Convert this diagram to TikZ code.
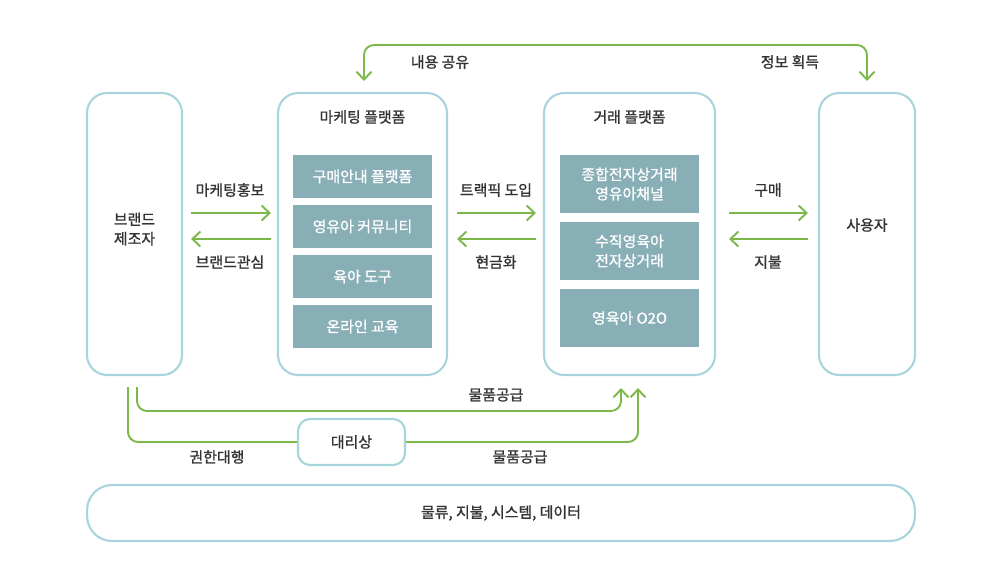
\documentclass[tikz,border=0pt]{standalone}
\usepackage{fontspec}
\setmainfont{Noto Sans CJK KR}[FakeBold=1.2]
\usetikzlibrary{arrows.meta}
\definecolor{boxline}{HTML}{A8D5DB}
\definecolor{boxfill}{HTML}{88AEB6}
\definecolor{flowgreen}{HTML}{7DB94A}
\definecolor{textgray}{HTML}{333333}

\begin{document}
\begin{tikzpicture}[x=0.02cm,y=-0.02cm,
    every node/.style={font=\fontsize{8.5}{11}\selectfont,text=textgray},
    flowtip/.tip={Straight Barb[length=4.5pt,width=8.5pt]},
    frame/.style={draw=boxline,line width=1.2pt,rounded corners=0.4cm},
    column/.style={frame,minimum height=5.64cm},
    item/.style={fill=boxfill,text=white,minimum width=2.78cm,align=center,inner sep=0pt},
    flow/.style={draw=flowgreen,line width=1.1pt,-flowtip},
    link/.style={draw=flowgreen,line width=1.1pt,rounded corners=0.2cm}]
    \useasboundingbox (0,0) rectangle (1000,566);
    \node[column,minimum width=1.9cm] (maker) at (134.5,234) {};
    \node[column,minimum width=3.38cm] (mkt) at (362.5,234) {};
    \node[column,minimum width=3.42cm] (trade) at (629.5,234) {};
    \node[column,minimum width=1.92cm] (user) at (867,234) {};
    \node[align=center] (makername) at (134.5,229) {브랜드\\제조자};
    \node (username) at (867,225) {사용자};
    \node (mkttitle) at (362.5,117) {마케팅 플랫폼};
    \node (tradetitle) at (629.5,117) {거래 플랫폼};
    \node[item,minimum height=0.86cm] (guide) at (362.5,176.5) {구매안내 플랫폼};
    \node[item,minimum height=0.86cm] (community) at (362.5,226.5) {영유아 커뮤니티};
    \node[item,minimum height=0.86cm] (tools) at (362.5,276.5) {육아 도구};
    \node[item,minimum height=0.86cm] (edu) at (362.5,326.5) {온라인 교육};
    \node[item,minimum height=1.16cm] (mall) at (629.5,184) {종합전자상거래\\영유아채널};
    \node[item,minimum height=1.16cm] (vertical) at (629.5,251) {수직영육아\\전자상거래};
    \node[item,minimum height=1.16cm] (otwoo) at (629.5,318) {영육아 O2O};
    \node[frame,rounded corners=0.24cm,minimum width=2.14cm,minimum height=0.92cm] (agent) at (351.5,442) {대리상};
    \node[frame,rounded corners=0.5cm,minimum width=16.56cm,minimum height=1.12cm] (base) at (501,513) {물류, 지불, 시스템, 데이터};
    \node (promo) at (230,190) {마케팅홍보};
    \node (interest) at (230,262) {브랜드관심};
    \node (traffic) at (496,190) {트랙픽 도입};
    \node (cash) at (496,262) {현금화};
    \node (buy) at (768,190) {구매};
    \node (pay) at (768,262) {지불};
    \node (share) at (440,62) {내용 공유};
    \node (gain) at (790,62) {정보 획득};
    \node (supplyA) at (496,395) {물품공급};
    \node (proxy) at (217,457) {권한대행};
    \node (supplyB) at (520,457) {물품공급};
    \coordinate (topline) at (600,45);
    \coordinate (supplyline) at (400,411);
    \draw[flow,shorten <=0.16cm,shorten >=0.12cm] ([yshift=0.42cm]maker.east) -- ([yshift=0.42cm]mkt.west);
    \draw[flow,shorten <=0.12cm,shorten >=0.16cm] ([yshift=-0.1cm]mkt.west) -- ([yshift=-0.1cm]maker.east);
    \draw[flow,shorten <=0.18cm,shorten >=0.14cm] ([yshift=0.42cm]mkt.east) -- ([yshift=0.42cm]trade.west);
    \draw[flow,shorten <=0.14cm,shorten >=0.18cm] ([yshift=-0.1cm]trade.west) -- ([yshift=-0.1cm]mkt.east);
    \draw[flow,shorten <=0.26cm,shorten >=0.2cm] ([yshift=0.42cm]trade.east) -- ([yshift=0.42cm]user.west);
    \draw[flow,shorten <=0.2cm,shorten >=0.26cm] ([yshift=-0.1cm]user.west) -- ([yshift=-0.1cm]trade.east);
    \draw[link,flowtip-flowtip,shorten <=0.22cm,shorten >=0.22cm] ([xshift=0.03cm]mkt.north) |- (topline) -| (user.north);
    \draw[link,-flowtip,shorten <=0.22cm,shorten >=0.24cm] ([xshift=0.05cm]maker.south) |- (supplyline) -| ([xshift=-0.17cm]trade.south);
    \draw[link,shorten <=0.22cm] ([xshift=-0.13cm]maker.south) |- (agent.west);
    \draw[link,-flowtip,shorten >=0.24cm] (agent.east) -| ([xshift=0.17cm]trade.south);
\end{tikzpicture}
\end{document}
